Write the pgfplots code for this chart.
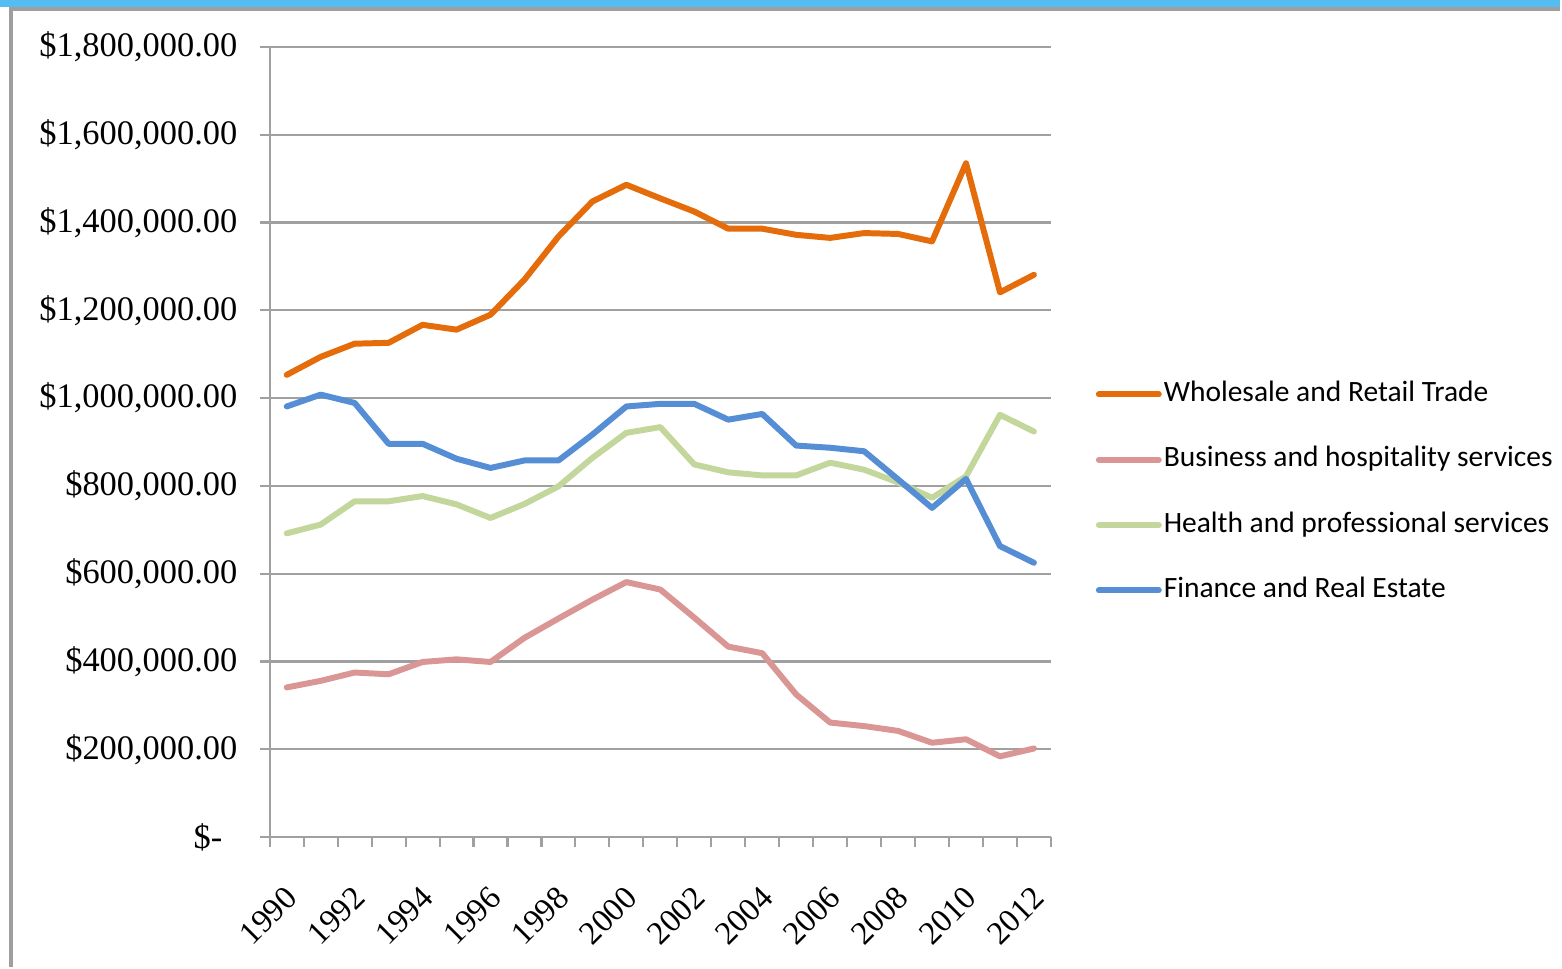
\documentclass[border=0pt]{standalone}
\usepackage{fontspec}
\setmainfont{Liberation Serif}
\newfontfamily\legfont{Carlito}
\usepackage{pgfplots}
\pgfplotsset{compat=1.18}
\definecolor{cOrange}{HTML}{E46C0A}
\definecolor{cPink}{HTML}{D99694}
\definecolor{cGreen}{HTML}{C3D69B}
\definecolor{cBlue}{HTML}{558ED5}
\definecolor{cGrid}{HTML}{A0A0A0}
\definecolor{cBand}{HTML}{56BDF2}
\begin{document}
\begin{tikzpicture}
\path (0,0) rectangle (15.62cm,9.68cm);
\fill[cBand] (0,9.61cm) rectangle (15.62cm,9.68cm);
\draw[gray!75, line width=0.9pt] (0.11cm,0) -- (0.11cm,9.59cm) -- (15.62cm,9.59cm);
\begin{axis}[
  at={(2.70cm,1.30cm)}, anchor=south west,
  scale only axis, width=7.82cm, height=7.91cm,
  xmin=-0.5, xmax=22.5, ymin=0, ymax=1800000,
  scaled y ticks=false,
  axis x line*=bottom, axis y line*=left,
  axis line style={draw=cGrid, line width=0.6pt, -},
  ytick={0,200000,...,1800000},
  yticklabels={{\$-\rule{0.15cm}{0pt}},{\$200,000.00},{\$400,000.00},{\$600,000.00},{\$800,000.00},{\$1,000,000.00},{\$1,200,000.00},{\$1,400,000.00},{\$1,600,000.00},{\$1,800,000.00}},
  ymajorgrids, grid style={draw=cGrid, line width=0.6pt},
  xtick={0,2,...,22},
  xticklabels={1990,1992,1994,1996,1998,2000,2002,2004,2006,2008,2010,2012},
  minor xtick={-0.5,0.5,...,22.5},
  xmajorgrids=false, xminorgrids=false,
  tick align=outside, tick pos=left,
  major tick length=0.1cm, minor tick length=0.1cm,
  x tick style={draw=cGrid, line width=0.6pt},
  y tick style={draw=cGrid, line width=0.6pt},
  every x tick/.style={draw=none},
  every minor x tick/.style={draw=cGrid, line width=0.6pt},
  yticklabel style={font=\fontsize{9.8}{11}\selectfont, xshift=-0.1cm},
  xticklabel style={font=\fontsize{9.3}{10}\selectfont, xshift=-0.03cm, yshift=-0.2cm, rotate=45, anchor=north east},
  legend style={at={(1.0575,0.578)}, anchor=north west, draw=none, fill=none,
    inner sep=0pt, outer sep=0pt, row sep=10.6pt, column sep=0.02cm,
    font=\legfont\fontsize{8.4}{9}\selectfont,
    nodes={inner sep=0pt, text height=6pt, text depth=2pt}},
  legend cell align=left,
  legend image code/.code={\draw[#1] (0cm,0cm) -- (0.6cm,0cm);},
  every axis plot/.append style={line width=1.7pt, line join=round, line cap=round},
]
\addplot[cOrange] coordinates {
(0,1053000)(1,1094000)(2,1124000)(3,1126000)(4,1167000)(5,1156000)(6,1190000)(7,1270000)(8,1368000)(9,1448000)(10,1486000)(11,1455000)(12,1425000)(13,1386000)(14,1386000)(15,1372000)(16,1365000)(17,1376000)(18,1374000)(19,1357000)(20,1535000)(21,1241000)(22,1281000)};
\addlegendentry{Wholesale and Retail Trade}
\addplot[cPink] coordinates {
(0,341000)(1,356000)(2,375000)(3,371000)(4,399000)(5,405000)(6,399000)(7,454000)(8,498000)(9,541000)(10,581000)(11,564000)(12,500000)(13,434000)(14,419000)(15,325000)(16,261000)(17,253000)(18,242000)(19,215000)(20,223000)(21,184000)(22,202000)};
\addlegendentry{Business and hospitality services}
\addplot[cGreen] coordinates {
(0,692000)(1,712000)(2,765000)(3,765000)(4,777000)(5,758000)(6,727000)(7,759000)(8,799000)(9,864000)(10,921000)(11,934000)(12,849000)(13,831000)(14,824000)(15,824000)(16,853000)(17,837000)(18,808000)(19,773000)(20,822000)(21,962000)(22,924000)};
\addlegendentry{Health and professional services}
\addplot[cBlue] coordinates {
(0,981000)(1,1008000)(2,989000)(3,896000)(4,896000)(5,862000)(6,841000)(7,858000)(8,858000)(9,917000)(10,981000)(11,987000)(12,987000)(13,951000)(14,964000)(15,892000)(16,887000)(17,879000)(18,815000)(19,750000)(20,816000)(21,663000)(22,625000)};
\addlegendentry{Finance and Real Estate}
\end{axis}
\end{tikzpicture}
\end{document}
